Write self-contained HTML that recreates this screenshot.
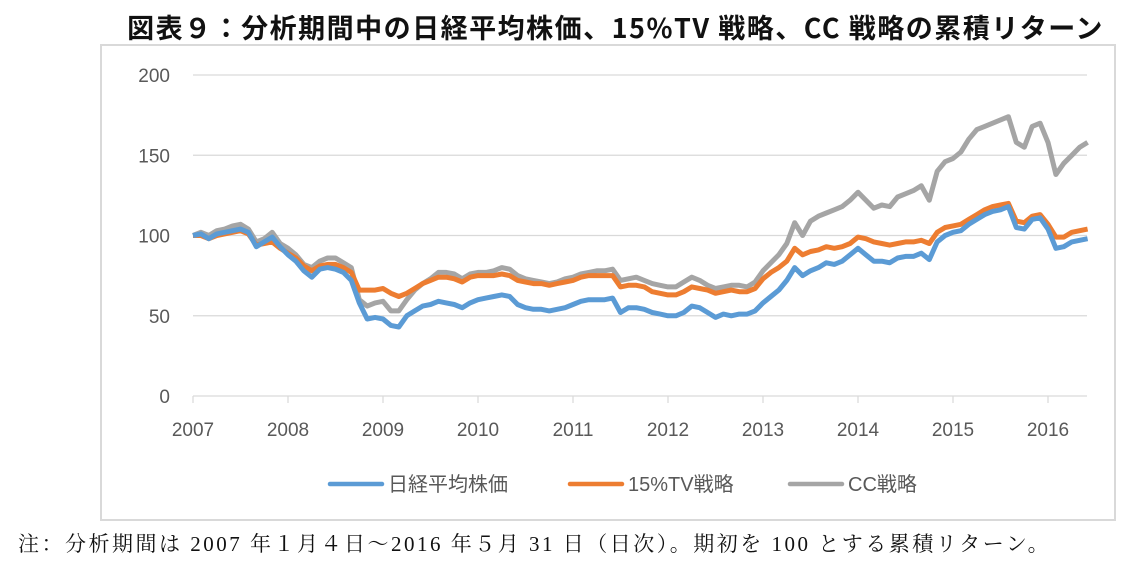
<!DOCTYPE html>
<html><head><meta charset="utf-8"><style>
body{margin:0;width:1146px;height:564px;background:#fff;overflow:hidden;font-family:"Liberation Sans","Noto Sans CJK JP",sans-serif}
#title{position:absolute;left:123px;width:985px;top:7px;text-align:center;font-size:27px;font-weight:bold;color:#111;font-family:"Noto Sans CJK JP",sans-serif;letter-spacing:1.5px;white-space:nowrap}
#box{position:absolute;left:100px;top:44px;width:1016px;height:477px;border:2px solid #d9d9d9;box-sizing:border-box}
#note{position:absolute;left:18px;top:528px;font-size:21px;color:#111;font-family:"Liberation Serif","Noto Serif CJK SC",serif;letter-spacing:2.5px;white-space:nowrap}
svg{position:absolute;left:0;top:0}
</style></head><body>
<div id="title">図表９：分析期間中の日経平均株価、15%TV 戦略、CC 戦略の累積リターン</div>
<div id="box"></div>
<svg id="chart" width="1146" height="564"></svg>
<div id="note">注：分析期間は 2007 年１月４日～2016 年５月 31 日（日次）。期初を 100 とする累積リターン。</div>
<script>
const yTicks=[0,50,100,150,200];
const xTicks=[2007,2008,2009,2010,2011,2012,2013,2014,2015,2016];
const seriesNames=["日経平均株価","15%TV戦略","CC戦略"];
const nikkei=[100,101,98,101,102,103,104,102,93,96,99,93,
88,84,78,74,79,80,79,77,72,58,48,49,
48,44,43,50,53,56,57,59,58,57,55,58,
60,61,62,63,62,57,55,54,54,53,54,55,
57,59,60,60,60,61,52,55,55,54,52,51,
50,50,52,56,55,52,49,51,50,51,51,53,
58,62,66,72,80,75,78,80,83,82,84,88,
92,88,84,84,83,86,87,87,89,85,96,100,
102,103,107,110,113,115,116,118,105,104,110,111,
104,92,93,96,97,98];
const tv=[100,100,98,100,101,102,103,101,94,95,96,92,
89,86,81,78,81,82,82,80,77,66,66,66,
67,64,62,64,67,70,72,74,74,73,71,74,
75,75,75,76,75,72,71,70,70,69,70,71,
72,74,75,75,75,75,68,69,69,68,65,64,
63,63,65,68,67,66,64,65,66,65,65,67,
73,77,80,84,92,88,90,91,93,92,93,95,
99,98,96,95,94,95,96,96,97,95,102,105,
106,107,110,113,116,118,119,120,109,108,112,113,
107,99,99,102,103,104];
const cc=[100,102,100,103,104,106,107,104,96,98,102,95,
92,88,82,80,84,86,86,83,80,60,56,58,
59,53,53,60,66,70,73,77,77,76,73,76,
77,77,78,80,79,75,73,72,71,70,71,73,
74,76,77,78,78,79,72,73,74,72,70,69,
68,68,71,74,72,69,67,68,69,69,68,71,
78,83,88,95,108,100,109,112,114,116,118,122,
127,122,117,119,118,124,126,128,131,122,140,146,
148,152,160,166,168,170,172,174,158,155,168,170,
158,138,145,150,155,158];
const startYear=2007;
const svg=document.getElementById('chart');
const NS='http://www.w3.org/2000/svg';
const X0=193,X1=1048,Y0=396,Y1=75;
function xs(t){return X0+(t-2007)*(X1-X0)/9;}
function ys(v){return Y0-(v/200)*(Y0-Y1);}
function mk(tag,attrs){const e=document.createElementNS(NS,tag);for(const k in attrs)e.setAttribute(k,attrs[k]);svg.appendChild(e);return e;}
yTicks.forEach(v=>{
 const l=mk('line',{x1:X0,x2:1087,y1:ys(v),y2:ys(v),stroke:'#d9d9d9','stroke-width':1.2});
 
 
 const t=mk('text',{x:170,y:ys(v)+7,'text-anchor':'end','font-size':19,fill:'#595959'});
 t.textContent=v;
 
 
});
xTicks.forEach(yr=>{
 const x=xs(yr);
 const l=mk('line',{x1:x,x2:x,y1:396,y2:403,stroke:'#d9d9d9','stroke-width':1.2});
 
 
 const t=mk('text',{x:x,y:436,'text-anchor':'middle','font-size':19,fill:'#595959'});
 t.textContent=yr;
 
 
});
const colors=['#5b9bd5','#ed7d31','#a5a5a5'];
const data=[nikkei,tv,cc];
const order=[2,1,0];
order.forEach(i=>{
 const arr=data[i];
 const pts=arr.map((v,j)=>xs(startYear+j/12).toFixed(1)+','+ys(v).toFixed(1));
 const p=mk('polyline',{points:pts.join(' '),fill:'none',stroke:colors[i],'stroke-width':5,'stroke-linejoin':'round'});
 
 
});
const lx=[330,570,790];
seriesNames.forEach((n,i)=>{
 const l=mk('line',{x1:lx[i],x2:lx[i]+52,y1:484,y2:484,stroke:colors[i],'stroke-width':4.5,'stroke-linecap':'round'});
 
 
 const t=mk('text',{x:lx[i]+58,y:491,'font-size':20,fill:'#595959'});
 t.textContent=n;
 
 
});
</script>
</body></html>
